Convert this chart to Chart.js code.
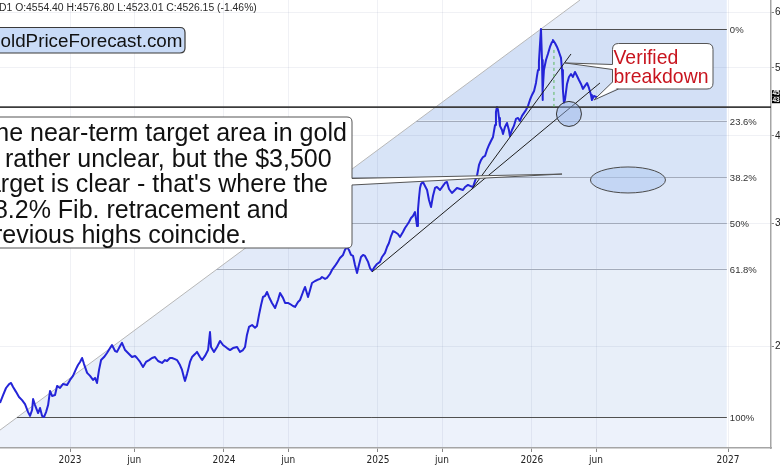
<!DOCTYPE html>
<html><head><meta charset="utf-8">
<script src="https://cdn.jsdelivr.net/npm/chart.js@4.4.1/dist/chart.umd.min.js"></script>
<style>html,body{margin:0;padding:0;background:#fff;overflow:hidden}canvas{display:block}</style>
</head><body>
<canvas id="c" width="780" height="470"></canvas>
<script>
// ---- DATA ----
// time in months since 1 Jan 2023, gold price in USD
const tMonths=[-5.46,-5.22,-4.99,-4.75,-4.60,-4.44,-4.21,-3.98,-3.74,-3.51,
-3.27,-3.12,-2.96,-2.88,-2.73,-2.49,-2.34,-2.18,-2.03,-1.87,
-1.71,-1.56,-1.40,-1.17,-1.01,-0.78,-0.55,-0.23,0,0.23,
0.47,0.62,0.78,0.94,1.09,1.33,1.56,1.79,1.95,2.10,
2.26,2.42,2.65,2.88,3.12,3.27,3.51,3.66,3.90,4.05,
4.29,4.52,4.83,5.07,5.22,5.46,5.69,5.92,6.16,6.39,
6.62,6.86,7.17,7.40,7.56,7.79,7.95,8.18,8.34,8.57,
8.73,8.89,8.96,9.12,9.20,9.35,9.51,9.74,9.90,10.13,
10.29,10.52,10.76,10.91,10.99,11.22,11.46,11.69,11.92,12.24,
12.47,12.70,13.02,13.25,13.48,13.64,13.79,13.95,14.19,14.42,
14.57,14.73,14.89,15.04,15.20,15.35,15.51,15.74,15.98,16.21,
16.37,16.60,16.76,16.99,17.15,17.38,17.54,17.77,17.93,18.16,
18.32,18.55,18.71,18.86,19.10,19.25,19.49,19.64,19.88,20.03,
20.26,20.42,20.65,20.81,21.04,21.28,21.43,21.59,21.74,21.90,
22.06,22.21,22.37,22.52,22.68,22.84,22.99,23.23,23.38,23.54,
23.69,23.93,24.16,24.32,24.55,24.71,24.86,25.02,25.18,25.33,
25.56,25.72,25.95,26.11,26.27,26.42,26.58,26.73,26.89,27.05,
27.12,27.20,27.28,27.36,27.51,27.67,27.83,27.98,28.14,28.29,
28.45,28.60,28.84,29.07,29.23,29.38,29.54,29.77,29.93,30.16,
30.40,30.63,30.79,31.02,31.18,31.41,31.57,31.72,31.88,32.04,
32.19,32.35,32.50,32.66,32.81,32.97,33.13,33.20,33.28,33.36,
33.44,33.51,33.67,33.75,33.90,34.06,34.21,34.29,34.45,34.60,
34.76,34.92,35.07,35.23,35.39,35.54,35.70,35.85,36.01,36.17,
36.32,36.40,36.48,36.55,36.63,36.71,36.79,36.83,36.86,36.94,
37.10,37.25,37.41,37.57,37.64,37.80,37.96,38.11,38.27,38.35,
38.42,38.50,38.58,38.74,38.89,39.05,39.20,39.36,39.52,39.67,
39.83,39.98,40.14,40.30,40.45,40.61,40.68,40.84,41.00,41.07];
const prices=[1661,1705,1745,1768,1774,1751,1723,1694,1677,1655,
1612,1592,1623,1683,1650,1607,1634,1592,1586,1612,
1650,1728,1700,1705,1757,1745,1768,1762,1792,1816,
1858,1882,1901,1926,1888,1834,1816,1792,1804,1774,
1852,1913,1932,1958,1990,2010,1971,1965,2004,2024,
1977,1958,1932,1939,1926,1901,1870,1901,1913,1926,
1932,1907,1895,1913,1907,1926,1926,1919,1913,1882,
1852,1804,1786,1828,1852,1901,1932,1951,1965,1932,
1913,1939,1977,2098,1997,1965,1997,2037,2010,1990,
1977,1990,1997,1965,1977,1997,2078,2133,2147,2127,
2140,2219,2293,2354,2362,2393,2354,2308,2270,2331,
2385,2347,2308,2308,2300,2285,2278,2316,2331,2393,
2433,2354,2409,2465,2481,2489,2498,2514,2498,2506,
2539,2573,2607,2633,2676,2703,2748,2775,2748,2703,
2694,2615,2547,2615,2685,2703,2694,2642,2590,2564,
2590,2624,2642,2685,2721,2775,2811,2876,2924,2915,
2896,2867,2915,2954,2983,3013,3053,3073,3113,2973,
3134,3260,3369,3414,3436,3392,3347,3239,3165,3281,
3369,3380,3347,3392,3425,3436,3358,3314,3336,3369,
3358,3347,3380,3403,3392,3380,3448,3505,3634,3694,
3730,3743,3818,3881,3932,3985,4145,4327,4398,4355,
4242,4132,4077,4024,4118,4172,4077,3997,4077,4132,
4228,4242,4200,4270,4313,4355,4413,4500,4575,4636,
4759,4870,4967,5100,5393,5684,5133,4500,4651,4967,
5133,5235,5357,5446,5482,5428,5357,5270,5168,4967,
4651,4456,4500,4743,4854,4902,4854,4935,4870,4806,
4743,4667,4713,4759,4682,4575,4500,4560,4545,4526.15];

const xTickValues=[0,5,12,17,24,29,36,41,51.29];
const xTickLabels=['2023','jun','2024','jun','2025','jun','2026','jun','2027'];
const yTickValues=[2000,3000,4000,5000,6000];

// Fibonacci retracement (low -> high), levels
const fibLowPrice=1586, fibHighPrice=5684, fibStartT=-4.09, fibEndT=36.71, fibRightT=51.2;
const fibLevels=[0,0.236,0.382,0.5,0.618,1];
const fibLabels=['0%','23.6%','38.2%','50%','61.8%','100%'];

// Drawn annotations (data coordinates)
const supportLineT=[23.54,41.31], supportLineP=[2556,4759];
const steepLineT=[31.33,39.05], steepLineP=[3358,5235];
const levelPrice=4395;
const circleT=38.89, circleP=4298;
const ellipseT=43.49, ellipseP=3459;
const greenT=37.72, greenP=[5305,4355];
const noteTipT=38.35, noteTipP=3527;
const verTip1T=38.58, verTip1P=5083, verTip2T=40.84, verTip2P=4500;
const lastClose=4526.15;

// view range
const xMin=-5.46, xMax=54.64, yMin=1432.5, yMax=6252;

const ohlcText='D1 O:4554.40 H:4576.80 L:4523.01 C:4526.15 (-1.46%)';
const logoText='GoldPriceForecast.com';
const noteLines=['The near-term target area in gold','is rather unclear, but the $3,500',"target is clear - that's where the",'38.2% Fib. retracement and','previous highs coincide.'];
const verifiedLines=['Verified','breakdown'];

const SANS="'Liberation Sans', Arial, Helvetica, sans-serif";
const NARROW="'Liberation Sans Narrow', 'DejaVu Sans Condensed', 'Liberation Sans', sans-serif";
Chart.defaults.font.family=SANS;

function rrect(ctx,x,y,w,h,r){ctx.beginPath();ctx.moveTo(x+r,y);ctx.lineTo(x+w-r,y);ctx.quadraticCurveTo(x+w,y,x+w,y+r);ctx.lineTo(x+w,y+h-r);ctx.quadraticCurveTo(x+w,y+h,x+w-r,y+h);ctx.lineTo(x+r,y+h);ctx.quadraticCurveTo(x,y+h,x,y+h-r);ctx.lineTo(x,y+r);ctx.quadraticCurveTo(x,y,x+r,y);ctx.closePath();}
function fitSize(ctx,text,width,family){ctx.font='100px '+family;return 100*width/ctx.measureText(text).width;}
const fibPrice=L=>Math.exp(Math.log(fibHighPrice)-L*(Math.log(fibHighPrice)-Math.log(fibLowPrice)));

function geom(chart){
  const X=chart.scales.x, Y=chart.scales.y;
  const ax=X.getPixelForValue(fibStartT), ay=Y.getPixelForValue(fibLowPrice);
  const bx=X.getPixelForValue(fibEndT), by=Y.getPixelForValue(fibHighPrice);
  const slope=(by-ay)/(bx-ax);
  return {X,Y,yAt:x=>ay+(x-ax)*slope,xAt:y=>ax+(y-ay)/slope,xr:X.getPixelForValue(fibRightT)};
}

const fibPlugin={
  id:'fib',
  beforeDraw(chart){
    const {ctx,chartArea:a}=chart; const g=geom(chart);
    ctx.save();
    ctx.fillStyle='#fff';ctx.fillRect(0,0,chart.width,chart.height);
    ctx.beginPath();
    ctx.moveTo(a.left,g.yAt(a.left));ctx.lineTo(g.xAt(a.top),a.top);
    ctx.lineTo(g.xr,a.top);ctx.lineTo(g.xr,a.bottom);ctx.lineTo(a.left,a.bottom);ctx.closePath();
    ctx.clip();
    const bandColors=['#e6edfa','#d3e0f6','#d8e4f7','#dde7f8','#e2eaf9','#e8eff9','#edf2fb'];
    const ys=[a.top,...fibLevels.map(L=>g.Y.getPixelForValue(fibPrice(L))),a.bottom];
    for(let i=0;i<ys.length-1;i++){ctx.fillStyle=bandColors[i];ctx.fillRect(a.left,ys[i],g.xr-a.left,ys[i+1]-ys[i]);}
    ctx.restore();
  },
  beforeDatasetsDraw(chart){
    const {ctx,chartArea:a}=chart; const g=geom(chart);
    ctx.save();
    ctx.strokeStyle='#b8b8b8';ctx.lineWidth=1;
    ctx.beginPath();ctx.moveTo(a.left,g.yAt(a.left));ctx.lineTo(g.xAt(a.top),a.top);ctx.stroke();
    fibLevels.forEach((L,i)=>{
      const y=Math.round(g.Y.getPixelForValue(fibPrice(L)))+0.5;
      ctx.strokeStyle=(L===0||L===1)?'#505050':'#a3abbb';
      ctx.lineWidth=1;
      ctx.beginPath();ctx.moveTo(Math.max(a.left,g.xAt(y)),y);ctx.lineTo(g.xr,y);ctx.stroke();
      ctx.fillStyle='#333';ctx.font='9.5px '+SANS;ctx.textBaseline='middle';ctx.textAlign='left';
      ctx.fillText(fibLabels[i],g.xr+3,y+1);
    });
    ctx.restore();
  },
  afterDatasetsDraw(chart){
    const {ctx,chartArea:a}=chart; const X=chart.scales.x, Y=chart.scales.y;
    const P=(t,p)=>[X.getPixelForValue(t),Y.getPixelForValue(p)];
    ctx.save();
    ctx.beginPath();ctx.rect(a.left,a.top,a.right-a.left,a.bottom-a.top);ctx.clip();
    const yl=Y.getPixelForValue(levelPrice);
    ctx.strokeStyle='#3c3c3c';ctx.lineWidth=1.6;
    ctx.beginPath();ctx.moveTo(a.left,yl);ctx.lineTo(a.right,yl);ctx.stroke();
    ctx.strokeStyle='#1e1e1e';ctx.lineWidth=1;
    [[supportLineT,supportLineP],[steepLineT,steepLineP]].forEach(([t,p])=>{
      const p0=P(t[0],p[0]),p1=P(t[1],p[1]);
      ctx.beginPath();ctx.moveTo(...p0);ctx.lineTo(...p1);ctx.stroke();
    });
    const g0=P(greenT,greenP[0]),g1=P(greenT,greenP[1]);
    ctx.strokeStyle='#5cb860';ctx.setLineDash([3,3]);ctx.lineWidth=1;
    ctx.beginPath();ctx.moveTo(...g0);ctx.lineTo(...g1);ctx.stroke();ctx.setLineDash([]);
    const c=P(circleT,circleP);
    ctx.beginPath();ctx.arc(c[0],c[1],12.5,0,Math.PI*2);
    ctx.fillStyle='rgba(150,180,232,0.45)';ctx.fill();ctx.strokeStyle='#333';ctx.lineWidth=1;ctx.stroke();
    const e=P(ellipseT,ellipseP);
    ctx.beginPath();ctx.ellipse(e[0],e[1],37.5,13,0,0,Math.PI*2);
    ctx.fillStyle='rgba(175,200,240,0.55)';ctx.fill();ctx.strokeStyle='#4a4a4a';ctx.stroke();
    ctx.restore();
  },
  afterDraw(chart){
    const {ctx,chartArea:a}=chart; const X=chart.scales.x, Y=chart.scales.y;
    ctx.save();
    let s=fitSize(ctx,ohlcText,258,SANS);
    ctx.font=s+'px '+SANS;ctx.fillStyle='#2a2a2a';ctx.textBaseline='alphabetic';ctx.textAlign='left';
    ctx.fillText(ohlcText,-1,11.4);
    rrect(ctx,-10,27.5,195,25.5,5);ctx.fillStyle='#c9dbf7';ctx.fill();ctx.strokeStyle='#3a3a3a';ctx.lineWidth=1.2;ctx.stroke();
    s=fitSize(ctx,logoText.slice(1),182,SANS);ctx.font=s+'px '+SANS;
    const gw=ctx.measureText(logoText[0]).width;
    ctx.fillStyle='#111';ctx.fillText(logoText,0.5-gw,46.7);
    const tip=[X.getPixelForValue(noteTipT),Y.getPixelForValue(noteTipP)];
    rrect(ctx,-10,117,362,131,5);ctx.fillStyle='#fff';ctx.fill();ctx.strokeStyle='#555';ctx.lineWidth=1;ctx.stroke();
    ctx.beginPath();ctx.moveTo(349,178.5);ctx.lineTo(tip[0],tip[1]);ctx.lineTo(349,185);ctx.closePath();ctx.fillStyle='#fff';ctx.fill();
    ctx.beginPath();ctx.moveTo(352,178.5);ctx.lineTo(tip[0],tip[1]);ctx.lineTo(352,185);ctx.strokeStyle='#555';ctx.stroke();
    s=fitSize(ctx,noteLines[0],367,SANS);ctx.font=s+'px '+SANS;ctx.fillStyle='#111';
    noteLines.forEach((l,i)=>ctx.fillText(l,-20,141+i*25.5));
    const t1=[X.getPixelForValue(verTip1T),Y.getPixelForValue(verTip1P)];
    const t2=[X.getPixelForValue(verTip2T),Y.getPixelForValue(verTip2P)];
    rrect(ctx,612.5,43.5,100.5,45.5,6);ctx.fillStyle='#fff';ctx.fill();ctx.strokeStyle='#555';ctx.stroke();
    ctx.fillStyle='#fff';
    ctx.beginPath();ctx.moveTo(614,64.5);ctx.lineTo(...t1);ctx.lineTo(614,69.5);ctx.closePath();ctx.fill();
    ctx.beginPath();ctx.moveTo(613,82);ctx.lineTo(...t2);ctx.lineTo(618.5,87.5);ctx.lineTo(618,84);ctx.closePath();ctx.fill();
    ctx.strokeStyle='#555';
    ctx.beginPath();ctx.moveTo(612.5,64.5);ctx.lineTo(...t1);ctx.lineTo(612.5,69.5);ctx.stroke();
    ctx.beginPath();ctx.moveTo(612.5,82);ctx.lineTo(...t2);ctx.lineTo(618.5,89);ctx.stroke();
    s=fitSize(ctx,verifiedLines[1],95,SANS);ctx.font=s+'px '+SANS;ctx.fillStyle='#c8141e';
    ctx.fillText(verifiedLines[0],613.5,64.4);ctx.fillText(verifiedLines[1],613.5,83.4);
    const yc=Y.getPixelForValue(lastClose);
    ctx.fillStyle='#000';ctx.fillRect(a.right+1,yc-8,12,6.5);ctx.fillRect(a.right+1,yc-1.5,12,6.5);
    ctx.fillStyle='#fff';ctx.font='bold 6.5px '+SANS;ctx.textBaseline='middle';
    ctx.fillText(lastClose.toFixed(2),a.right+1.5,yc-4.6);
    ctx.fillText(levelPrice.toFixed(2),a.right+1.5,yc+1.9);
    ctx.restore();
  }
};

new Chart(document.getElementById('c'),{
  type:'line',
  data:{datasets:[{data:tMonths.map((t,i)=>({x:t,y:prices[i]})),borderColor:'#2424d8',borderWidth:2,pointRadius:0,tension:0,fill:false,borderJoinStyle:'round'}]},
  options:{
    responsive:false,animation:false,devicePixelRatio:1,events:[],
    layout:{padding:0},
    plugins:{legend:{display:false},tooltip:{enabled:false}},
    scales:{
      x:{type:'linear',position:'bottom',min:xMin,max:xMax,bounds:'data',
        afterBuildTicks:s=>{s.ticks=xTickValues.map(v=>({value:v}));},
        afterFit:s=>{s.height=22;s.paddingLeft=0;s.paddingRight=0;s.paddingTop=0;s.paddingBottom=0;},
        ticks:{autoSkip:false,maxRotation:0,minRotation:0,padding:2,color:'#222',font:{family:NARROW,size:10},callback:(v,i)=>xTickLabels[i]},
        grid:{color:'rgba(40,60,110,0.07)',tickColor:'#888',tickLength:4,lineWidth:1},
        border:{color:'#a5a5a5',width:1.5}},
      y:{type:'logarithmic',position:'right',min:yMin,max:yMax,bounds:'data',
        afterBuildTicks:s=>{s.ticks=yTickValues.map(v=>({value:v}));},
        afterFit:s=>{s.width=9;s.paddingTop=0;s.paddingBottom=0;s.paddingLeft=0;s.paddingRight=0;},
        ticks:{padding:1,color:'#222',font:{family:SANS,size:10},callback:v=>Number(v).toFixed(2)},
        grid:{color:'rgba(40,60,110,0.07)',tickColor:'#888',tickLength:3,lineWidth:1},
        border:{color:'#a5a5a5',width:1.5}}
    }
  },
  plugins:[fibPlugin]
});
</script>
</body></html>
